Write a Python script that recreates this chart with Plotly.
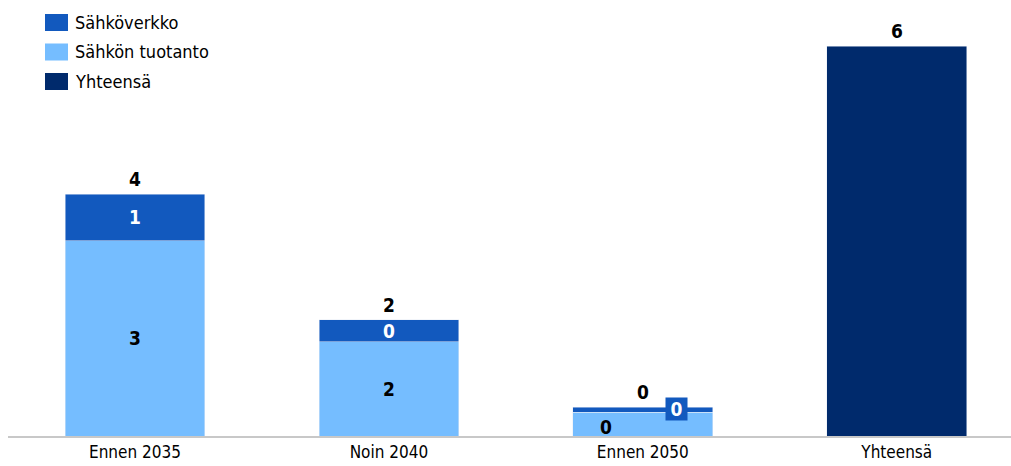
import plotly.graph_objects as go

# Data per period
categories = ["Ennen 2035", "Noin 2040", "Ennen 2050"]
tuotanto = [3.18, 1.53, 0.39]      # Sähkön tuotanto
verkko = [0.75, 0.36, 0.08]        # Sähköverkko
total_category = "Yhteensä"
total_value = [6.34]

legend_names = ["Sähköverkko", "Sähkön tuotanto", "Yhteensä"]

C_VERKKO = "#1259BE"
C_TUOTANTO = "#75BDFF"
C_TOTAL = "#002A6C"
FONT = "DejaVu Sans Condensed, Roboto, sans-serif"

W, H = 1011, 466
ML, MR, MT, MB = 8, 0, 10, 30
PW, PH = W - ML - MR, H - MT - MB
YMAX = 6.93


def px_x(px):
    return (px - ML) / PW


def px_y(py):
    return (H - MB - py) / PH


fig = go.Figure()
fig.add_bar(x=categories, y=tuotanto, name=legend_names[1], marker_color=C_TUOTANTO,
            width=0.55, showlegend=False)
fig.add_bar(x=categories, y=verkko, name=legend_names[0], marker_color=C_VERKKO,
            width=0.55, showlegend=False)
fig.add_bar(x=[total_category], y=total_value, name=legend_names[2], marker_color=C_TOTAL,
            width=0.55, showlegend=False)

ann = []
bold = dict(family=FONT, size=19, color="black")
white = dict(family=FONT, size=19, color="white")

for i, c in enumerate(categories):
    t, v = tuotanto[i], verkko[i]
    tot = t + v
    ann.append(dict(x=c, y=tot, text=f"<b>{round(tot):.0f}</b>", showarrow=False,
                    yanchor="bottom", yshift=2, font=bold))
    if i < 2:
        ann.append(dict(x=c, y=t / 2, text=f"<b>{round(t):.0f}</b>", showarrow=False,
                        font=bold))
        ann.append(dict(x=c, y=t + v / 2, text=f"<b>{round(v):.0f}</b>", showarrow=False,
                        font=white))
    else:
        # thin segments: labels moved sideways
        ann.append(dict(x=c, y=t / 2, text=f"<b>{round(t):.0f}</b>", showarrow=False,
                        xshift=-37, yshift=-3, font=bold))
        ann.append(dict(x=c, y=tot, text=f"<b>{round(v):.0f}</b>", showarrow=False,
                        xshift=34, yshift=-2, font=white, bgcolor=C_VERKKO, borderpad=1,
                        width=19, height=20))

ann.append(dict(x=total_category, y=total_value[0], text=f"<b>{round(total_value[0]):.0f}</b>",
                showarrow=False, yanchor="bottom", yshift=2, font=bold))

# Legend drawn as boxes and labels
shapes = []
legend_colors = [C_VERKKO, C_TUOTANTO, C_TOTAL]
for k, (name, col) in enumerate(zip(legend_names, legend_colors)):
    top = 14 + k * 29.5
    shapes.append(dict(type="rect", xref="paper", yref="paper",
                       x0=px_x(45), x1=px_x(68), y0=px_y(top), y1=px_y(top + 17),
                       fillcolor=col, line_width=0))
    ann.append(dict(xref="paper", yref="paper", x=px_x(73), y=px_y(top + 8.5),
                    text=name, showarrow=False, xanchor="left", yanchor="middle",
                    font=dict(family=FONT, size=18, color="black")))

fig.update_layout(
    width=W, height=H,
    margin=dict(l=ML, r=MR, t=MT, b=MB),
    barmode="stack",
    bargap=0.45,
    plot_bgcolor="white", paper_bgcolor="white",
    annotations=ann, shapes=shapes,
    showlegend=False,
    xaxis=dict(range=[-0.5, 3.45], showgrid=False, showline=True, linecolor="#C8C8C8",
               linewidth=1.5, ticks="", tickfont=dict(family=FONT, size=17, color="black"),
               zeroline=False, fixedrange=True),
    yaxis=dict(range=[0, YMAX], visible=False, fixedrange=True),
)

fig.write_html("out.html")
